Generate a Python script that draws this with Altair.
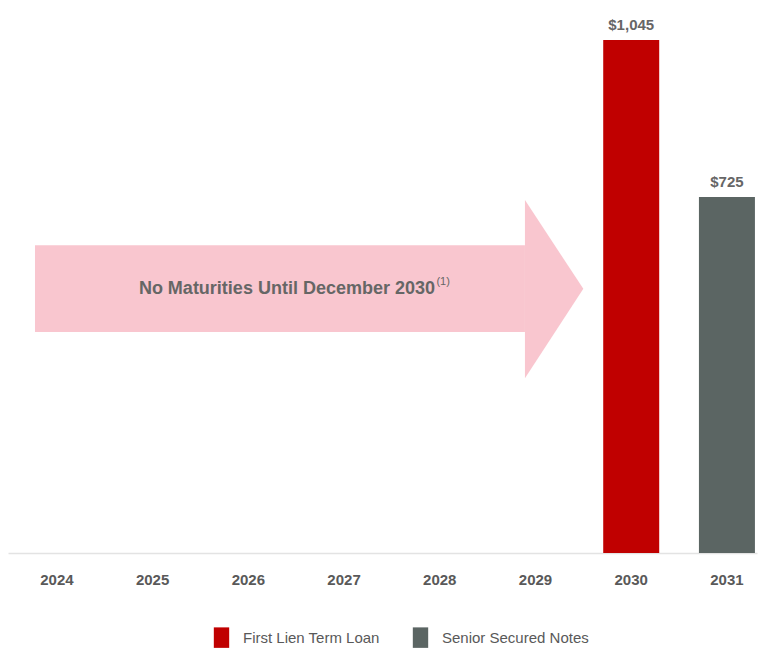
import altair as alt
import pandas as pd

years = ["2024", "2025", "2026", "2027", "2028", "2029", "2030", "2031"]
bar_years = ["2030", "2031"]
bar_series = ["First Lien Term Loan", "Senior Secured Notes"]
bar_values = [1045, 725]
bar_labels = ["$1,045", "$725"]
series_colors = ["#C00000", "#5B6563"]

# arrow annotation in data units (x: year index, y: $ amount)
arrow_body_x = [-0.23, 4.89]
arrow_body_y = [450, 627]
arrow_head_x = [4.89, 5.50]
arrow_head_top = [719, 538]
arrow_head_bottom = [356, 538]
arrow_text = "No Maturities Until December 2030"
arrow_text_pos = [3.95, 538]
arrow_sup = "(1)"
arrow_sup_pos = [3.965, 552]

FONT = "Liberation Sans"
Y_MAX = 1106
X_MIN, X_MAX = -0.512, 7.315

bars_df = pd.DataFrame({"year": bar_years, "series": bar_series,
                        "value": bar_values, "label": bar_labels})

xband = alt.X("year:N", scale=alt.Scale(domain=years, paddingInner=0.415,
                                         paddingOuter=0.12, align=0.91),
              sort=years,
              axis=alt.Axis(title=None, labelAngle=0, ticks=False, labelPadding=19,
                            labelFontSize=15, labelFontWeight="bold", labelColor="#595959",
                            labelFont=FONT, domainColor="#e3e3e3", domainWidth=1.5))
yscale = alt.Scale(domain=[0, Y_MAX], nice=False, zero=True)

bars = alt.Chart(bars_df).mark_bar().encode(
    x=xband,
    y=alt.Y("value:Q", scale=yscale, axis=None),
    color=alt.Color("series:N",
                    scale=alt.Scale(domain=bar_series, range=series_colors),
                    legend=alt.Legend(title=None, orient="none", direction="horizontal",
                                      legendX=203, legendY=617,
                                      symbolType="M-0.75,-1L0.75,-1L0.75,1L-0.75,1Z",
                                      symbolSize=420, symbolStrokeWidth=0,
                                      labelFont=FONT, labelFontSize=15, labelColor="#595959",
                                      labelOffset=11, columnPadding=30)),
)
labels = alt.Chart(bars_df).mark_text(baseline="bottom", dy=-7, fontSize=15,
                                       fontWeight="bold", color="#666666", font=FONT).encode(
    x=alt.X("year:N", sort=years, scale=alt.Scale(domain=years)),
    y=alt.Y("value:Q", scale=yscale),
    text="label:N",
)
band_layer = alt.layer(bars, labels)

xq = alt.Scale(domain=[X_MIN, X_MAX], nice=False, zero=False)

body_df = pd.DataFrame({"x": [arrow_body_x[0]], "x2": [arrow_body_x[1]],
                        "y": [arrow_body_y[0]], "y2": [arrow_body_y[1]]})
body = alt.Chart(body_df).mark_rect(color="#F9C6CF").encode(
    x=alt.X("x:Q", scale=xq, axis=None), x2="x2:Q",
    y=alt.Y("y:Q", scale=yscale, axis=None), y2="y2:Q",
)
head_df = pd.DataFrame({"x": arrow_head_x, "top": arrow_head_top, "bottom": arrow_head_bottom})
head = alt.Chart(head_df).mark_area(color="#F9C6CF").encode(
    x=alt.X("x:Q", scale=xq, axis=None),
    y=alt.Y("top:Q", scale=yscale, axis=None), y2="bottom:Q",
)
txt_df = pd.DataFrame({"x": [arrow_text_pos[0]], "y": [arrow_text_pos[1]], "t": [arrow_text]})
txt = alt.Chart(txt_df).mark_text(align="right", baseline="middle", fontSize=18,
                                   fontWeight="bold", color="#666666", font=FONT).encode(
    x=alt.X("x:Q", scale=xq, axis=None),
    y=alt.Y("y:Q", scale=yscale, axis=None), text="t:N",
)
sup_df = pd.DataFrame({"x": [arrow_sup_pos[0]], "y": [arrow_sup_pos[1]], "t": [arrow_sup]})
sup = alt.Chart(sup_df).mark_text(align="left", baseline="middle", fontSize=11,
                                   color="#666666", font=FONT).encode(
    x=alt.X("x:Q", scale=xq, axis=None),
    y=alt.Y("y:Q", scale=yscale, axis=None), text="t:N",
)
arrow_layer = alt.layer(body, head, txt, sup)

chart = alt.layer(arrow_layer, band_layer).resolve_scale(x="independent").properties(
    width=749, height=543,
    autosize=alt.AutoSizeParams(type="none"),
    padding={"left": 8, "top": 10, "right": 10, "bottom": 98},
    background="white",
).configure_view(stroke=None)

chart.save("out.html", embed_options={"renderer": "svg", "actions": False})
